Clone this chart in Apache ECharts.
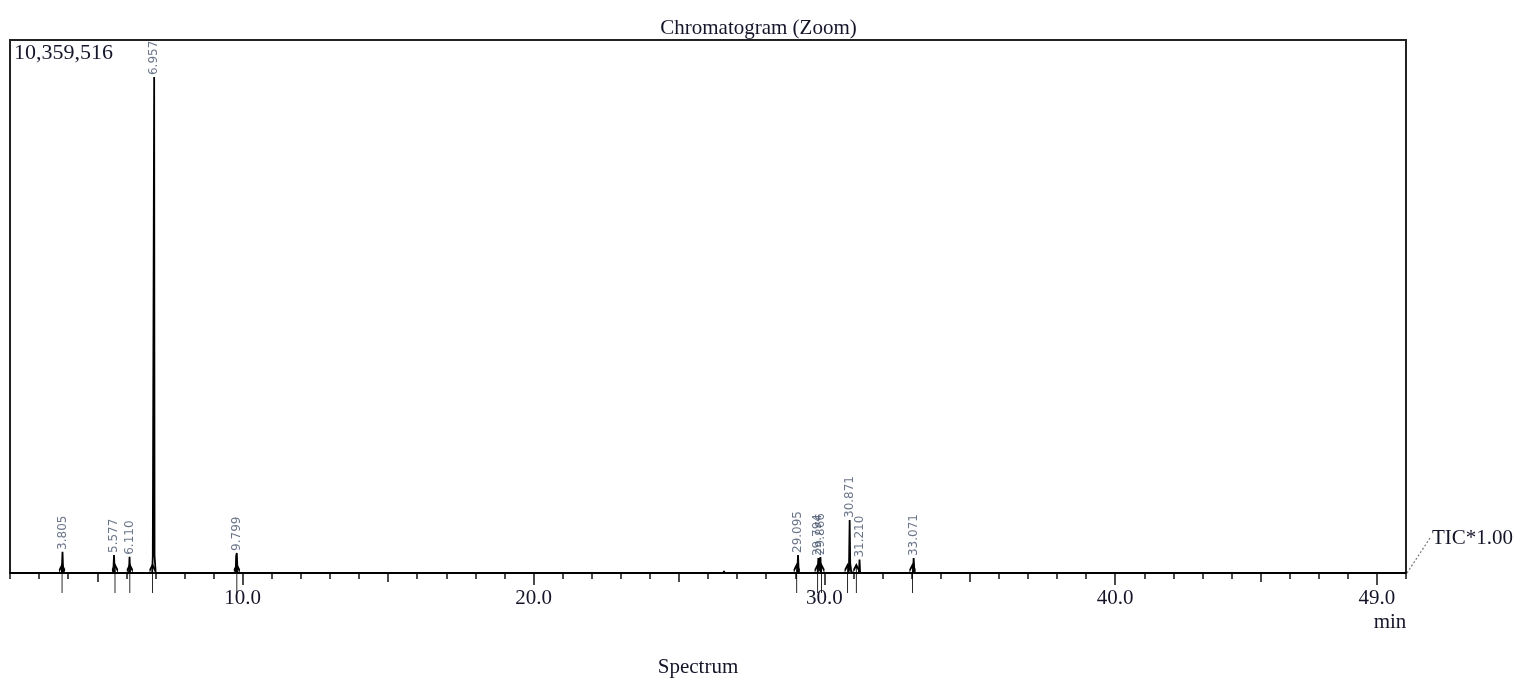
<!DOCTYPE html>
<html>
<head>
<meta charset="utf-8">
<script src="https://cdn.jsdelivr.net/npm/echarts@6/dist/echarts.min.js"></script>
<style>
  html, body { margin: 0; padding: 0; background: #fff; }
  #chart { width: 1517px; height: 681px; }
</style>
</head>
<body>
<div id="chart"></div>
<script>
// Total ion current trace: retention time (min) and intensity (counts)
const rtMinutes = [
  2.00, 3.78, 3.805, 3.83,
  5.55, 5.577, 5.60,
  6.09, 6.110, 6.13,
  6.89, 6.91, 6.93, 6.945, 6.957, 6.97, 6.99, 7.01,
  9.76, 9.775, 9.79, 9.799, 9.81, 9.825,
  26.53, 26.55, 26.57,
  29.07, 29.095, 29.12,
  29.77, 29.794, 29.82, 29.84, 29.866, 29.89,
  30.83, 30.85, 30.871, 30.89, 30.92, 30.95,
  31.19, 31.210, 31.23,
  33.05, 33.071, 33.10,
  50.00
];
const ticCounts = [
  0, 0, 410000, 0,
  0, 350000, 0,
  0, 315000, 0,
  0, 330000, 350000, 300000, 9640000, 340000, 320000, 0,
  0, 330000, 360000, 390000, 370000, 0,
  0, 40000, 0,
  0, 350000, 0,
  0, 290000, 120000, 200000, 310000, 0,
  0, 200000, 1030000, 180000, 60000, 0,
  0, 260000, 0,
  0, 290000, 0,
  0
];

// Identified peaks (apex retention time and apex intensity)
const peakTimes = [3.805, 5.577, 6.110, 6.957, 9.799, 29.095, 29.794, 29.866, 30.871, 31.210, 33.071];
const peakHeights = [410000, 350000, 315000, 9640000, 390000, 350000, 290000, 310000, 1030000, 260000, 290000];

// Integration start/end markers under the baseline
const markerTimes = [3.79, 5.61, 6.12, 6.90, 9.80, 29.05, 29.77, 29.90, 30.80, 31.10, 33.03];

// Full-scale intensity of the window
const fullScale = 10359516;

// Axis ticks
const minuteTicks = [2,3,4,5,6,7,8,9,10,11,12,13,14,15,16,17,18,19,20,21,22,23,24,25,26,27,28,29,30,31,32,33,34,35,36,37,38,39,40,41,42,43,44,45,46,47,48,49,50];
const fiveMinuteTicks = [5, 15, 25, 35, 45];
const labelTicks = [10.0, 20.0, 30.0, 40.0, 49.0];

const SERIF = '"Liberation Serif", "DejaVu Serif", serif';
const TEXT = '#15152a';
const chart = echarts.init(document.getElementById('chart'), null, { renderer: 'canvas' });

const xBase = { type: 'value', min: 2, max: 50, gridIndex: 0, position: 'bottom', splitLine: { show: false } };

const option = {
  animation: false,
  backgroundColor: '#ffffff',
  title: {
    text: 'Chromatogram (Zoom)',
    left: 'center',
    top: 13,
    textStyle: { fontFamily: SERIF, fontSize: 21, fontWeight: 'normal', color: TEXT }
  },
  grid: {
    left: 10, top: 40, right: 111, bottom: 108,
    show: true, borderColor: '#222', borderWidth: 2, backgroundColor: 'transparent'
  },
  xAxis: [
    Object.assign({}, xBase, {
      axisLine: { show: true, lineStyle: { color: '#111', width: 2 } },
      axisTick: { show: true, customValues: minuteTicks, length: 6, lineStyle: { color: '#111', width: 1.5 } },
      axisLabel: { show: false }
    }),
    Object.assign({}, xBase, {
      axisLine: { show: false },
      axisTick: { show: true, customValues: fiveMinuteTicks, length: 9, lineStyle: { color: '#111', width: 1.5 } },
      axisLabel: { show: false }
    }),
    Object.assign({}, xBase, {
      axisLine: { show: false },
      axisTick: { show: true, customValues: labelTicks, length: 12, lineStyle: { color: '#111', width: 1.5 } },
      axisLabel: {
        show: true, customValues: labelTicks, margin: 15,
        formatter: v => v.toFixed(1),
        fontFamily: SERIF, fontSize: 21, color: TEXT
      }
    })
  ],
  yAxis: {
    type: 'value', min: 0, max: fullScale,
    axisLine: { show: false }, axisTick: { show: false }, axisLabel: { show: false }, splitLine: { show: false }
  },
  series: [
    {
      name: 'TIC',
      type: 'line',
      xAxisIndex: 0,
      data: rtMinutes.map((t, i) => [t, ticCounts[i]]),
      showSymbol: false,
      lineStyle: { color: '#000', width: 1.8 },
      z: 3
    },
    {
      name: 'Peaks',
      type: 'scatter',
      xAxisIndex: 0,
      data: peakTimes.map((t, i) => [t, peakHeights[i]]),
      symbolSize: 0,
      label: {
        show: true,
        position: 'top',
        distance: 2,
        rotate: 90,
        align: 'left',
        verticalAlign: 'middle',
        formatter: p => p.value[0].toFixed(3),
        fontFamily: '"DejaVu Sans", sans-serif',
        fontSize: 12,
        color: '#46536c'
      },
      z: 4
    },
    {
      name: 'Markers',
      type: 'scatter',
      xAxisIndex: 0,
      data: markerTimes.map(t => [t, 0]),
      symbol: 'path://M3,0 L3,28 M0,6 L3,0 L6,6',
      symbolSize: [6, 28],
      symbolOffset: [0, 6],
      symbolKeepAspect: false,
      itemStyle: { color: 'rgba(0,0,0,0)', borderColor: '#000', borderWidth: 1.8, opacity: 1 },
      z: 5
    }
  ]
};

chart.setOption(option);

// Text annotations placed relative to the plotting area
const corner = chart.convertToPixel({ gridIndex: 0 }, [50, 0]);
const origin = chart.convertToPixel({ gridIndex: 0 }, [2, fullScale]);
chart.setOption({
  graphic: [
    {
      type: 'text', left: origin[0] + 4, top: origin[1] + 2,
      style: { text: '10,359,516', font: '22px ' + SERIF, fill: TEXT }
    },
    {
      type: 'line',
      shape: { x1: corner[0] + 1, y1: corner[1], x2: corner[0] + 24, y2: corner[1] - 35 },
      style: { stroke: '#777', lineWidth: 1.2, lineDash: [2, 2] }
    },
    {
      type: 'text', x: corner[0] + 26, y: corner[1] - 35,
      style: { text: 'TIC*1.00', font: '21px ' + SERIF, fill: TEXT, verticalAlign: 'middle', align: 'left' }
    },
    {
      type: 'text', x: corner[0] - 16, y: corner[1] + 49,
      style: { text: 'min', font: '21px ' + SERIF, fill: TEXT, verticalAlign: 'middle', align: 'center' }
    },
    {
      type: 'text', x: 698, y: 667,
      style: { text: 'Spectrum', font: '21px ' + SERIF, fill: TEXT, verticalAlign: 'middle', align: 'center' }
    }
  ]
});
</script>
</body>
</html>
